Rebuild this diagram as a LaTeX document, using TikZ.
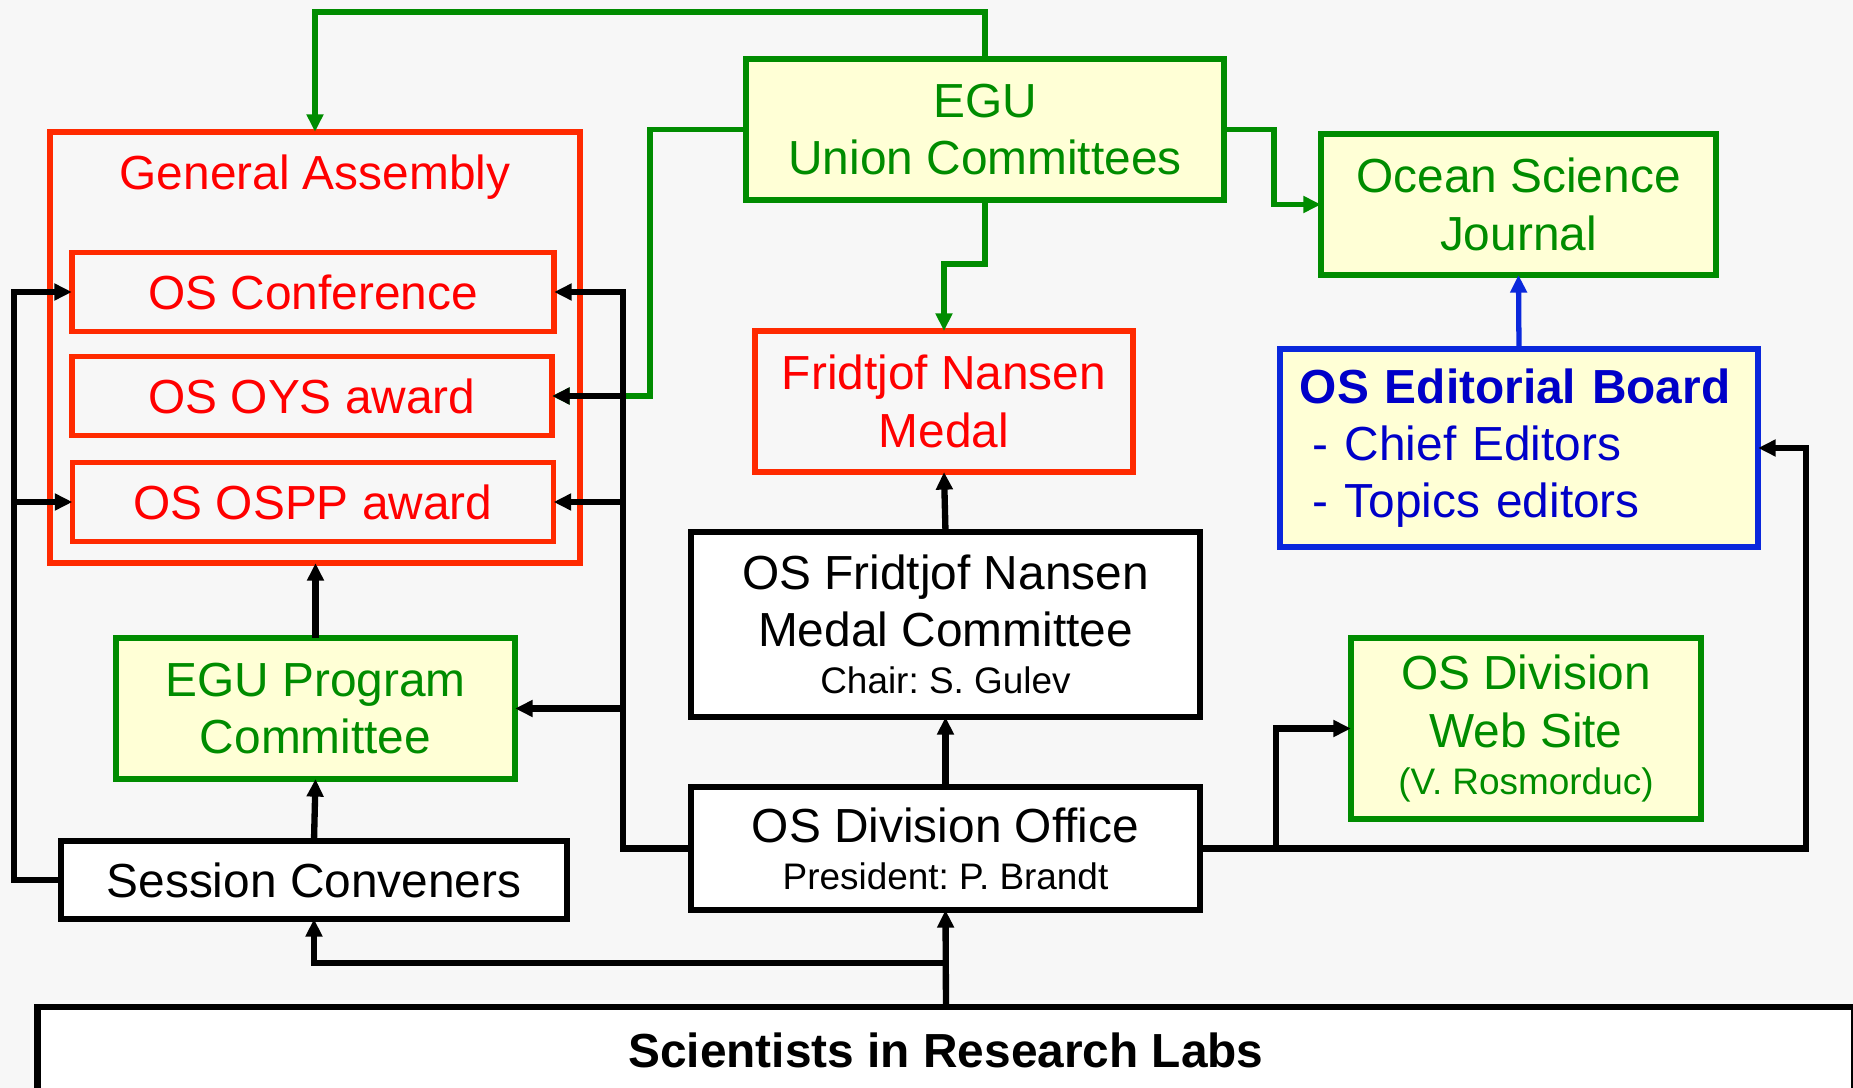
\documentclass[tikz,border=0pt]{standalone}
\usepackage{fontspec}
\setmainfont{Liberation Sans}
\usetikzlibrary{arrows.meta}
\frenchspacing

\definecolor{egugreen}{HTML}{008C00}
\definecolor{boxred}{HTML}{FF2A00}
\definecolor{boxblue}{HTML}{0A28DC}
\definecolor{textblue}{HTML}{0000C8}
\definecolor{paleyellow}{HTML}{FFFFD6}
\definecolor{backgray}{HTML}{F7F7F7}
\newcommand{\smalltext}[1]{{\fontsize{10.5}{13}\selectfont #1}}

\begin{document}
\begin{tikzpicture}[
        x=0.01cm, y=-0.01cm,
        box/.style={rectangle, line width=1.75pt, align=center, inner sep=0pt, outer sep=0pt, font=\fontsize{13.6}{16.3}\selectfont},
        redbox/.style={box, draw=boxred, text=red, line width=1.55pt},
        greenbox/.style={box, draw=egugreen, fill=paleyellow, text=egugreen},
        blackbox/.style={box, draw=black, fill=white, text=black},
        bluebox/.style={box, draw=boxblue, fill=paleyellow, text=textblue, line width=1.6pt},
        arrow/.style={line width=1.8pt, -{Triangle[length=5pt, width=4.6pt]}},
        greenarrow/.style={arrow, line width=1.6pt, color=egugreen},
        bluearrow/.style={arrow, line width=1.5pt, color=boxblue}
    ]
        \clip (0,0) rectangle (1853,1088);
        \fill[backgray] (0,0) rectangle (1853,1088);

        % left column
        \node (ga) [redbox, minimum width=5.3cm, minimum height=4.31cm] at (315,347.5) {};
        \node (gatitle) [font=\fontsize{13.6}{16.3}\selectfont, text=red] at (315,177) {General Assembly};
        \node (conf) [redbox, minimum width=4.82cm, minimum height=0.79cm] at (313,292) {OS Conference};
        \node (oys) [redbox, minimum width=4.8cm, minimum height=0.79cm] at (312,396) {OS OYS award};
        \node (ospp) [redbox, minimum width=4.81cm, minimum height=0.79cm] at (313,502) {OS OSPP award};
        \node (prog) [greenbox, minimum width=3.99cm, minimum height=1.41cm] at (315.5,708.5) {EGU Program\\Committee};
        \node (conv) [blackbox, minimum width=5.06cm, minimum height=0.78cm] at (314,880) {Session Conveners};

        % middle column
        \node (egu) [greenbox, minimum width=4.78cm, minimum height=1.41cm] at (985,129.5) {EGU\\Union Committees};
        \node (medal) [redbox, minimum width=3.78cm, minimum height=1.41cm] at (944,401.5) {Fridtjof Nansen\\Medal};
        \node (mcom) [blackbox, minimum width=5.09cm, minimum height=1.85cm] at (945.5,624.5) {OS Fridtjof Nansen\\Medal Committee\\[-3pt]\smalltext{Chair: S. Gulev}};
        \node (office) [blackbox, minimum width=5.09cm, minimum height=1.23cm] at (945.5,848.5) {OS Division Office\\[-3pt]\smalltext{President: P. Brandt}};

        % right column
        \node (osj) [greenbox, minimum width=3.95cm, minimum height=1.41cm] at (1518.5,204.5) {Ocean Science\\Journal};
        \node (edit) [bluebox, minimum width=4.78cm, minimum height=1.98cm, align=left, text width=4.38cm] at (1519,448) {\textbf{OS Editorial Board}\\\hspace*{0.13cm}- Chief Editors\\\hspace*{0.13cm}- Topics editors};
        \node (web) [greenbox, minimum width=3.5cm, minimum height=1.81cm] at (1526,728.5) {OS Division\\Web Site\\[-3pt]\smalltext{(V. Rosmorduc)}};

        \node (sci) [blackbox, minimum width=18.16cm, minimum height=0.86cm] at (946,1050) {\textbf{Scientists in Research Labs}};

        % EGU links
        \draw[greenarrow] (egu.north) -- ++(0,-47) -| (ga.north);
        \draw[greenarrow] (egu.west) -- ++(-96,0) |- (oys.east);
        \draw[greenarrow] (egu.east) -- ++(50,0) |- (osj.west);
        \draw[greenarrow] (egu.south) -- ++(0,64) -| (medal.north);
        \draw[bluearrow] (edit.north) -- (osj.south);

        % conveners
        \draw[arrow] (conv.west) -- ++(-47,0) |- (conf.west);
        \draw[arrow] (conv.west) -- ++(-47,0) |- (ospp.west);
        \draw[arrow] (conv.north) -- (prog.south);
        \draw[arrow] (prog.north) -- (prog.north |- ga.south);

        % division office
        \draw[arrow] (office.west) -- ++(-68,0) |- (conf.east);
        \draw[arrow] (office.west) -- ++(-68,0) |- (oys.east);
        \draw[arrow] (office.west) -- ++(-68,0) |- (ospp.east);
        \draw[arrow] (office.west) -- ++(-68,0) |- (prog.east);
        \draw[arrow] (office.north) -- (mcom.south);
        \draw[arrow] (mcom.north) -- (medal.south);
        \draw[arrow] (office.east) -- ++(606,0) |- (edit.east);
        \draw[arrow] (office.east) -- ++(76,0) |- (web.west);

        % scientists
        \draw[arrow] (sci.north) -- (office.south);
        \draw[arrow] (sci.north) -- ++(0,-44) -| (conv.south);
    \end{tikzpicture}
\end{document}
